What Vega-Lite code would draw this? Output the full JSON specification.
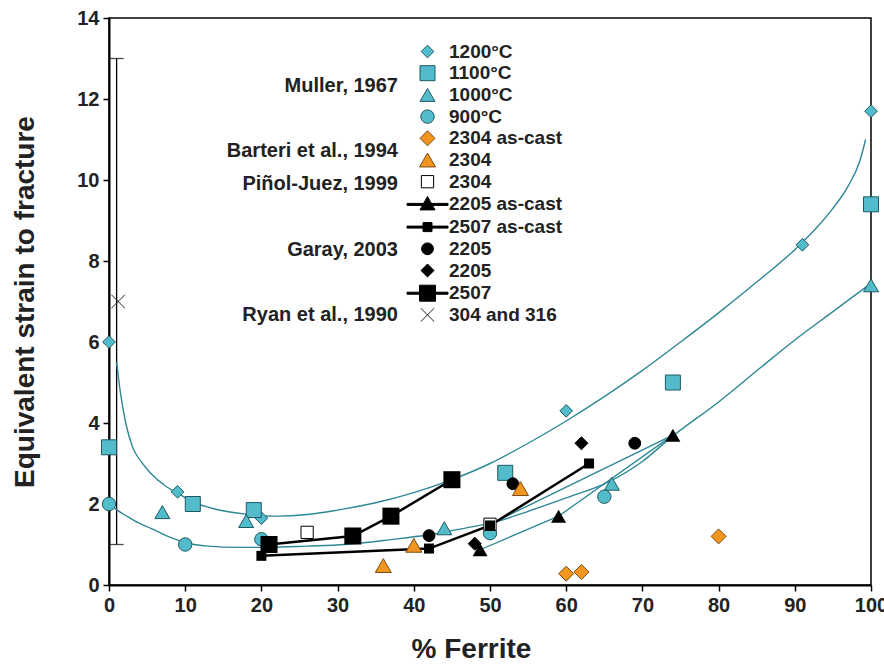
{
  "$schema": "https://vega.github.io/schema/vega-lite/v6.json",
  "width": 762,
  "height": 567,
  "autosize": {"type": "none"},
  "padding": {"left": 109, "top": 18, "right": 13, "bottom": 86},
  "background": "white",
  "config": {
    "font": "Liberation Sans",
    "view": {"stroke": "black", "strokeWidth": 1.5},
    "axis": {
      "grid": false,
      "domainColor": "black",
      "domainWidth": 2,
      "tickColor": "black",
      "tickWidth": 1.5,
      "tickSize": 6,
      "labelFont": "Liberation Sans",
      "labelFontSize": 20,
      "labelFontWeight": "bold",
      "labelColor": "#222",
      "labelFlush": false,
      "labelOverlap": false,
      "titleFont": "Liberation Sans",
      "titleFontSize": 28,
      "titleFontWeight": "bold",
      "titleColor": "#222"
    }
  },
  "datasets": {
    "err": [{"x": 1, "lo": 1, "hi": 13}],
    "pts": [
      {"s": "M|1200°C", "x": 0, "y": 6.0},
      {"s": "M|1200°C", "x": 9, "y": 2.3},
      {"s": "M|1200°C", "x": 20, "y": 1.65},
      {"s": "M|1200°C", "x": 60, "y": 4.3},
      {"s": "M|1200°C", "x": 91, "y": 8.4},
      {"s": "M|1200°C", "x": 100, "y": 11.7},
      {"s": "M|1100°C", "x": 0, "y": 3.4},
      {"s": "M|1100°C", "x": 11, "y": 2.0},
      {"s": "M|1100°C", "x": 19, "y": 1.85},
      {"s": "M|1100°C", "x": 52, "y": 2.77},
      {"s": "M|1100°C", "x": 74, "y": 5.0},
      {"s": "M|1100°C", "x": 100, "y": 9.4},
      {"s": "M|1000°C", "x": 7, "y": 1.8},
      {"s": "M|1000°C", "x": 18, "y": 1.58},
      {"s": "M|1000°C", "x": 44, "y": 1.4},
      {"s": "M|1000°C", "x": 66, "y": 2.5},
      {"s": "M|1000°C", "x": 100, "y": 7.4},
      {"s": "M|900°C", "x": 0, "y": 2.0},
      {"s": "M|900°C", "x": 10, "y": 1.0},
      {"s": "M|900°C", "x": 20, "y": 1.13},
      {"s": "M|900°C", "x": 50, "y": 1.28},
      {"s": "M|900°C", "x": 65, "y": 2.18},
      {"s": "P|2304", "x": 26, "y": 1.3},
      {"s": "P|2304", "x": 50, "y": 1.5},
      {"s": "G|2205 as-cast", "x": 48.7, "y": 0.87},
      {"s": "G|2205 as-cast", "x": 59, "y": 1.7},
      {"s": "G|2205 as-cast", "x": 74, "y": 3.7},
      {"s": "G|2507 as-cast", "x": 20, "y": 0.72},
      {"s": "G|2507 as-cast", "x": 42, "y": 0.9},
      {"s": "G|2507 as-cast", "x": 50, "y": 1.47},
      {"s": "G|2507 as-cast", "x": 63, "y": 3.0},
      {"s": "G|2205|c", "x": 42, "y": 1.22},
      {"s": "G|2205|c", "x": 53, "y": 2.5},
      {"s": "G|2205|c", "x": 69, "y": 3.5},
      {"s": "G|2205|d", "x": 48, "y": 1.02},
      {"s": "G|2205|d", "x": 62, "y": 3.5},
      {"s": "G|2507", "x": 21, "y": 1.0},
      {"s": "G|2507", "x": 32, "y": 1.21},
      {"s": "G|2507", "x": 37, "y": 1.7},
      {"s": "G|2507", "x": 45, "y": 2.6},
      {"s": "B|2304 as-cast", "x": 60, "y": 0.28},
      {"s": "B|2304 as-cast", "x": 62, "y": 0.32},
      {"s": "B|2304 as-cast", "x": 80, "y": 1.2},
      {"s": "B|2304", "x": 36, "y": 0.48},
      {"s": "B|2304", "x": 40, "y": 0.98},
      {"s": "B|2304", "x": 54, "y": 2.38},
      {"s": "R|304 and 316", "x": 1.2, "y": 7.0}
    ],
    "fits": [
      {"c": "U", "x": 1.0, "y": 5.5},
      {"c": "U", "x": 1.5, "y": 4.75},
      {"c": "U", "x": 2.2, "y": 4.0},
      {"c": "U", "x": 3.1, "y": 3.4},
      {"c": "U", "x": 4.2, "y": 3.05},
      {"c": "U", "x": 5.4, "y": 2.77},
      {"c": "U", "x": 7.6, "y": 2.42},
      {"c": "U", "x": 9, "y": 2.27},
      {"c": "U", "x": 11, "y": 2.05},
      {"c": "U", "x": 14, "y": 1.87},
      {"c": "U", "x": 18, "y": 1.75},
      {"c": "U", "x": 22, "y": 1.7},
      {"c": "U", "x": 26, "y": 1.74},
      {"c": "U", "x": 30, "y": 1.85},
      {"c": "U", "x": 35, "y": 2.03},
      {"c": "U", "x": 40, "y": 2.28},
      {"c": "U", "x": 45, "y": 2.6},
      {"c": "U", "x": 50, "y": 3.0},
      {"c": "U", "x": 55, "y": 3.5},
      {"c": "U", "x": 60, "y": 4.05},
      {"c": "U", "x": 65, "y": 4.65},
      {"c": "U", "x": 70, "y": 5.3},
      {"c": "U", "x": 75, "y": 6.0},
      {"c": "U", "x": 80, "y": 6.72},
      {"c": "U", "x": 85, "y": 7.48},
      {"c": "U", "x": 90, "y": 8.28},
      {"c": "U", "x": 93, "y": 8.85},
      {"c": "U", "x": 95, "y": 9.3},
      {"c": "U", "x": 97, "y": 9.85},
      {"c": "U", "x": 98.5, "y": 10.45},
      {"c": "U", "x": 99.3, "y": 11.0},
      {"c": "L", "x": 0.3, "y": 1.97},
      {"c": "L", "x": 1, "y": 1.86},
      {"c": "L", "x": 2.5, "y": 1.68},
      {"c": "L", "x": 4, "y": 1.52},
      {"c": "L", "x": 5.5, "y": 1.4},
      {"c": "L", "x": 7.5, "y": 1.22},
      {"c": "L", "x": 10, "y": 1.05},
      {"c": "L", "x": 13, "y": 0.96},
      {"c": "L", "x": 17, "y": 0.93},
      {"c": "L", "x": 21, "y": 0.93},
      {"c": "L", "x": 26, "y": 0.96},
      {"c": "L", "x": 31, "y": 1.0},
      {"c": "L", "x": 37, "y": 1.12},
      {"c": "L", "x": 42, "y": 1.24},
      {"c": "L", "x": 47.4, "y": 1.43},
      {"c": "L", "x": 50, "y": 1.52},
      {"c": "L", "x": 55, "y": 1.82},
      {"c": "L", "x": 60, "y": 2.15},
      {"c": "L", "x": 65.5, "y": 2.54},
      {"c": "L", "x": 70, "y": 3.05},
      {"c": "L", "x": 73.6, "y": 3.62},
      {"c": "L", "x": 80, "y": 4.52},
      {"c": "L", "x": 85.4, "y": 5.35},
      {"c": "L", "x": 90, "y": 6.05},
      {"c": "L", "x": 95, "y": 6.75},
      {"c": "L", "x": 99.5, "y": 7.38},
      {"c": "C", "x": 50, "y": 1.5},
      {"c": "C", "x": 74, "y": 3.7}
    ]
  },
  "layer": [
    {
      "data": {"name": "err"},
      "mark": {"type": "rule", "color": "black", "strokeWidth": 1.3},
      "encoding": {
        "x": {"field": "x", "type": "quantitative", "title": "% Ferrite",
              "scale": {"domain": [0, 100], "nice": false},
              "axis": {"values": [0,10,20,30,40,50,60,70,80,90,100], "labelPadding": 4, "titlePadding": 20, "titleX": 362}},
        "y": {"field": "lo", "type": "quantitative", "title": "Equivalent strain to fracture",
              "scale": {"domain": [0, 14], "nice": false},
              "axis": {"values": [0,2,4,6,8,10,12,14], "labelPadding": 4, "titlePadding": 37}},
        "y2": {"field": "hi"}
      }
    },
    {
      "data": {"name": "err"},
      "transform": [{"fold": ["lo", "hi"]}],
      "mark": {"type": "tick", "orient": "horizontal", "color": "black", "size": 14, "thickness": 1.3},
      "encoding": {
        "x": {"field": "x", "type": "quantitative", "title": "% Ferrite"},
        "y": {"field": "value", "type": "quantitative", "title": "Equivalent strain to fracture"}
      }
    },
    {
      "data": {"name": "fits"},
      "mark": {"type": "line", "color": "#2e8796", "strokeWidth": 1.4, "interpolate": "monotone"},
      "encoding": {
        "x": {"field": "x", "type": "quantitative", "title": "% Ferrite"},
        "y": {"field": "y", "type": "quantitative", "title": "Equivalent strain to fracture"},
        "detail": {"field": "c", "type": "nominal"}
      }
    },
    {
      "data": {"name": "pts"},
      "transform": [{"filter": "datum.s === 'G|2205 as-cast'"}],
      "mark": {"type": "line", "color": "#2e8796", "strokeWidth": 1.3},
      "encoding": {
        "x": {"field": "x", "type": "quantitative", "title": "% Ferrite"},
        "y": {"field": "y", "type": "quantitative", "title": "Equivalent strain to fracture"}
      }
    },
    {
      "data": {"name": "pts"},
      "transform": [{"filter": "datum.s === 'G|2507' || datum.s === 'G|2507 as-cast'"}],
      "mark": {"type": "line", "color": "black", "strokeWidth": 2.5},
      "encoding": {
        "x": {"field": "x", "type": "quantitative", "title": "% Ferrite"},
        "y": {"field": "y", "type": "quantitative", "title": "Equivalent strain to fracture"},
        "detail": {"field": "s", "type": "nominal"}
      }
    },
    {
      "data": {"name": "pts"},
      "transform": [{"filter": "datum.s !== 'G|2205 as-cast' && datum.s !== 'G|2507 as-cast' && datum.s !== 'G|2507'"}],
      "mark": {"type": "point", "filled": true, "opacity": 1, "strokeWidth": 1},
      "encoding": {
        "x": {"field": "x", "type": "quantitative", "title": "% Ferrite"},
        "y": {"field": "y", "type": "quantitative", "title": "Equivalent strain to fracture"},
        "shape": {
          "field": "s", "type": "nominal",
          "scale": {
            "domain": ["M|1200°C","M|1100°C","M|1000°C","M|900°C","B|2304 as-cast","B|2304","P|2304","G|2205 as-cast","G|2507 as-cast","G|2205|c","G|2205|d","G|2507","R|304 and 316"],
            "range": ["diamond","square","triangle-up","circle","diamond","triangle-up","square",
                      "M-2.05,-0.1H2.05V0.1H-2.05ZM0,-0.8L0.75,0.55L-0.75,0.55Z",
                      "M-2.05,-0.1H2.05V0.1H-2.05ZM-0.45,-0.45H0.45V0.45H-0.45Z",
                      "circle","diamond",
                      "M-2.05,-0.1H2.05V0.1H-2.05ZM-0.8,-0.8H0.8V0.8H-0.8Z",
                      "M-1,-1L1,1M-1,1L1,-1"]
          },
          "legend": {
            "orient": "none",
            "legendX": 118,
            "legendY": 24,
            "title": ["Muller, 1967", "\u200b", "Barteri et al., 1994", "Piñol-Juez, 1999", "\u200b", "Garay, 2003", "\u200b", "Ryan et al., 1990"],
            "titleOrient": "left",
            "titleAlign": "right",
            "titleAnchor": "end",
            "titleBaseline": "bottom",
            "titleLineHeight": 32.7,
            "titleFont": "Liberation Sans",
            "titleFontSize": 20,
            "titleFontWeight": "bold",
            "titleColor": "#222",
            "titlePadding": -153,
            "labelExpr": "split(datum.label, '|')[1]",
            "labelFont": "Liberation Sans",
            "labelFontSize": 19,
            "labelFontWeight": "bold",
            "labelColor": "#222",
            "labelOffset": 11,
            "rowPadding": 1.7,
            "symbolStrokeWidth": 1
          }
        },
        "fill": {
          "field": "s", "type": "nominal",
          "scale": {
            "domain": ["M|1200°C","M|1100°C","M|1000°C","M|900°C","B|2304 as-cast","B|2304","P|2304","G|2205 as-cast","G|2507 as-cast","G|2205|c","G|2205|d","G|2507","R|304 and 316"],
            "range": ["#52bccb","#52bccb","#52bccb","#52bccb","#f2951f","#f2951f","white","black","black","black","black","black","black"]
          }
        },
        "stroke": {
          "field": "s", "type": "nominal",
          "scale": {
            "domain": ["M|1200°C","M|1100°C","M|1000°C","M|900°C","B|2304 as-cast","B|2304","P|2304","G|2205 as-cast","G|2507 as-cast","G|2205|c","G|2205|d","G|2507","R|304 and 316"],
            "range": ["#1e5964","#1e5964","#1e5964","#1e5964","#7a4d12","#7a4d12","black","black","black","black","black","black","#222"]
          }
        },
        "size": {
          "field": "s", "type": "nominal",
          "scale": {
            "type": "ordinal",
            "domain": ["M|1200°C","M|1100°C","M|1000°C","M|900°C","B|2304 as-cast","B|2304","P|2304","G|2205 as-cast","G|2507 as-cast","G|2205|c","G|2205|d","G|2507","R|304 and 316"],
            "range": [160,225,225,180,225,256,150,400,400,140,170,400,180]
          }
        }
      }
    },
    {
      "data": {"name": "pts"},
      "transform": [{"filter": "datum.s === 'G|2205 as-cast'"}],
      "mark": {"type": "point", "shape": "triangle-up", "filled": true, "color": "black", "opacity": 1, "size": 225},
      "encoding": {
        "x": {"field": "x", "type": "quantitative", "title": "% Ferrite"},
        "y": {"field": "y", "type": "quantitative", "title": "Equivalent strain to fracture"}
      }
    },
    {
      "data": {"name": "pts"},
      "transform": [{"filter": "datum.s === 'G|2507 as-cast'"}],
      "mark": {"type": "point", "shape": "square", "filled": true, "color": "black", "opacity": 1, "size": 100},
      "encoding": {
        "x": {"field": "x", "type": "quantitative", "title": "% Ferrite"},
        "y": {"field": "y", "type": "quantitative", "title": "Equivalent strain to fracture"}
      }
    },
    {
      "data": {"name": "pts"},
      "transform": [{"filter": "datum.s === 'G|2507'"}],
      "mark": {"type": "point", "shape": "square", "filled": true, "color": "black", "opacity": 1, "size": 290},
      "encoding": {
        "x": {"field": "x", "type": "quantitative", "title": "% Ferrite"},
        "y": {"field": "y", "type": "quantitative", "title": "Equivalent strain to fracture"}
      }
    }
  ]
}
